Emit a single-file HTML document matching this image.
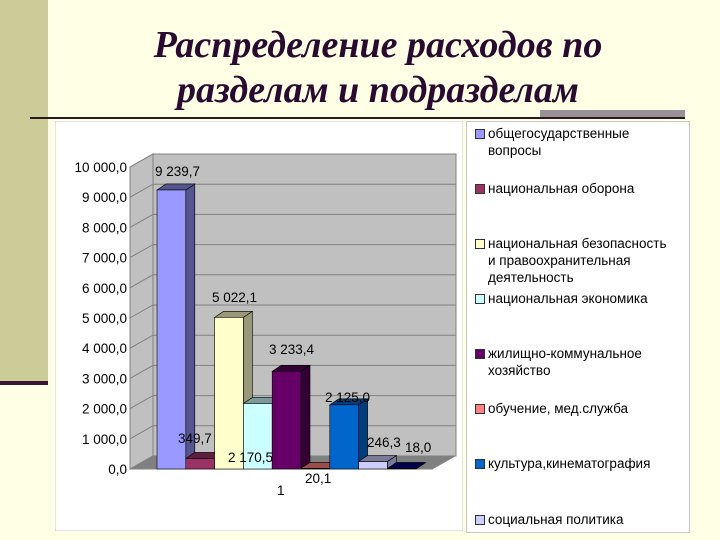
<!DOCTYPE html>
<html><head><meta charset="utf-8">
<style>
body{margin:0;width:720px;height:540px;background:#FFFFE6;position:relative;overflow:hidden;font-family:"Liberation Sans",sans-serif}
#strip{position:absolute;left:0;top:0;width:48px;height:381px;background:#CCCC99}
#stripline{position:absolute;left:0;top:381px;width:48px;height:4px;background:#3a1430}
#title{position:absolute;left:18px;top:23px;width:720px;text-align:center;font-family:"Liberation Serif",serif;font-style:italic;font-weight:bold;font-size:38px;line-height:45px;color:#2a0a30}
#tline{position:absolute;left:30px;top:117px;width:655px;height:2px;background:#2a1a20}
#tgray{position:absolute;left:540px;top:110px;width:145px;height:7px;background:#9a9098}
#legend{position:absolute;left:466px;top:121px;width:222px;height:410px;background:#fff;border:1px solid #c8c8c8}
.li{position:absolute;left:8px;font-size:13.5px;line-height:17px;color:#000;white-space:nowrap}
.sw{position:absolute;left:0;top:4px;width:8px;height:8px;border:1px solid #333}
.li span{display:block;padding-left:13px}
</style></head><body>
<div id="strip"></div>
<div id="stripline"></div>
<div id="title">Распределение расходов по<br>разделам и подразделам</div>
<div id="tgray"></div>
<div id="tline"></div>
<svg id="chart" style="position:absolute;left:55px;top:121px" width="408" height="410" viewBox="55 121 408 410">
<rect x="55" y="121" width="408" height="410" fill="#fff" stroke="#c8c8c8"/>
</svg>
<div id="legend"></div>
<script>
const categories=["общегосударственные вопросы","национальная оборона","национальная безопасность и правоохранительная деятельность","национальная экономика","жилищно-коммунальное хозяйство","обучение, мед.служба","культура,кинематография","социальная политика","прочие"];
const values=[9239.7,349.7,5022.1,2170.5,3233.4,20.1,2125.0,246.3,18.0];
const valueLabels=["9 239,7","349,7","5 022,1","2 170,5","3 233,4","20,1","2 125,0","246,3","18,0"];
const ticks=[0,1000,2000,3000,4000,5000,6000,7000,8000,9000,10000];
const tickLabels=["0,0","1 000,0","2 000,0","3 000,0","4 000,0","5 000,0","6 000,0","7 000,0","8 000,0","9 000,0","10 000,0"];
const colors=["#9999FF","#993366","#FFFFCC","#CCFFFF","#660066","#FF8080","#0066CC","#CCCCFF","#000080"];
const sides=["#55558F","#5C1F3D","#99997A","#7A9999","#330033","#994D4D","#003D7A","#7A7A99","#00004D"];
const legendTops=[133,188,243,298,353,408,463,519];

const NS="http://www.w3.org/2000/svg";
const svg=document.getElementById('chart');
const y0=469, k=0.0302;
const y=v=>y0-v*k;
const WX=23, WY=13, left=130, right=433;
const bx=i=>157+i*28.8;
const bw=28.8, dx=9, dy=6;
function el(t,a){const e=document.createElementNS(NS,t);for(const n in a)e.setAttribute(n,a[n]);svg.appendChild(e);return e;}
let w=el('polygon',{points:`${left},${y(0)} ${left+WX},${y(0)-WY} ${left+WX},${y(10000)-WY} ${left},${y(10000)}`,fill:'#C0C0C0',stroke:'#808080'});


let b=el('rect',{x:left+WX,y:y(10000)-WY,width:right-left,height:y(0)-y(10000),fill:'#C0C0C0',stroke:'#808080'});


let f=el('polygon',{points:`${left},${y(0)} ${left+WX},${y(0)-WY} ${right+WX},${y(0)-WY} ${right},${y(0)}`,fill:'#808080'});


ticks.forEach((t,i)=>{
  const g=el('polyline',{points:`${left},${y(t)} ${left+WX},${y(t)-WY} ${right+WX},${y(t)-WY}`,fill:'none',stroke:'#808080','stroke-width':1});
  
  
  const tx=el('text',{x:127,y:y(t)+5,'text-anchor':'end','font-size':'13.5',fill:'#000'});
  tx.textContent=tickLabels[i];
  
  
});
el('line',{x1:left,y1:y(0),x2:right,y2:y(0),stroke:'#808080'});
const lp=[[155,176],[178,443],[212,302],[228,462],[269,354],[305,483],[325,402],[367,447],[405,452]];
values.forEach((v,i)=>{
  const x=bx(i), t=y(v);
  const g=document.createElementNS(NS,'g');svg.appendChild(g);
  
  
  const mk=(p,c)=>{const e=document.createElementNS(NS,'polygon');e.setAttribute('points',p);e.setAttribute('fill',c);e.setAttribute('stroke','#000');e.setAttribute('stroke-width','0.6');g.appendChild(e);};
  mk(`${x+bw},${y0} ${x+bw+dx},${y0-dy} ${x+bw+dx},${t-dy} ${x+bw},${t}`,sides[i]);
  mk(`${x},${t} ${x+dx},${t-dy} ${x+bw+dx},${t-dy} ${x+bw},${t}`,sides[i]);
  const r=document.createElementNS(NS,'rect');r.setAttribute('x',x);r.setAttribute('y',t);r.setAttribute('width',bw);r.setAttribute('height',y0-t);r.setAttribute('fill',colors[i]);r.setAttribute('stroke','#000');r.setAttribute('stroke-width','0.6');g.appendChild(r);
});
values.forEach((v,i)=>{
  const tx=el('text',{x:lp[i][0],y:lp[i][1],'font-size':'13.5',fill:'#000'});
  tx.textContent=valueLabels[i];
  
  
});
const c1=el('text',{x:277,y:495,'font-size':'13.5',fill:'#000'});c1.textContent='1';


const lg=document.getElementById('legend');
const labelsHtml=["общегосударственные<br>вопросы","национальная оборона","национальная безопасность<br>и правоохранительная<br>деятельность","национальная экономика","жилищно-коммунальное<br>хозяйство","обучение, мед.служба","культура,кинематография","социальная политика"];
legendTops.forEach((tp,i)=>{
  const d=document.createElement('div');d.className='li';d.style.top=(tp-122-8)+'px';
  
  
  d.innerHTML=`<div class="sw" style="background:${colors[i]}"></div><span>${labelsHtml[i]}</span>`;
  lg.appendChild(d);
});
</script>
</body></html>
